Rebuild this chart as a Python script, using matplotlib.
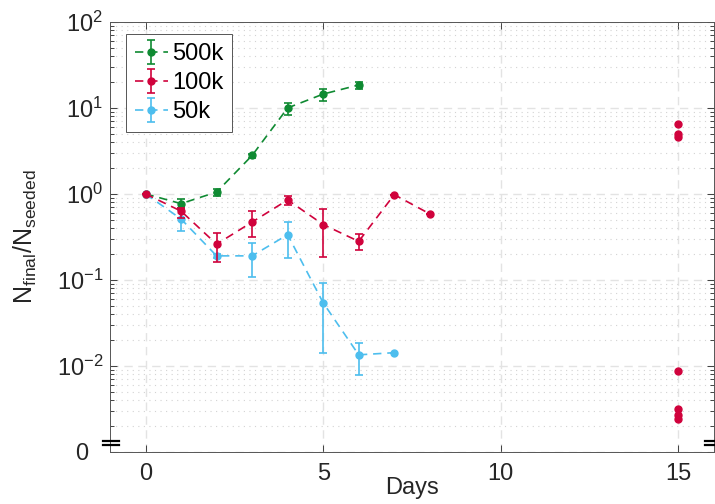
import numpy as np
import matplotlib
matplotlib.use("Agg")
import matplotlib.pyplot as plt
import matplotlib.transforms as mtransforms
from matplotlib.ticker import LogLocator, NullFormatter
from matplotlib.legend_handler import HandlerErrorbar

plt.rcParams["font.family"] = ["Liberation Sans", "DejaVu Sans"]
plt.rcParams["mathtext.fontset"] = "custom"
plt.rcParams["mathtext.rm"] = "Liberation Sans"
plt.rcParams["mathtext.it"] = "Liberation Sans:italic"

# data
days_500k = [0, 1, 2, 3, 4, 5, 6]
vals_500k = [1.0, 0.77, 1.05, 2.8, 10.0, 14.5, 18.5]
lo_500k = [0.0, 0.09, 0.10, 0.15, 1.7, 2.4, 1.9]
hi_500k = [0.0, 0.10, 0.09, 0.15, 1.4, 2.1, 1.6]

days_100k = [0, 1, 2, 3, 4, 5, 6, 7, 8]
vals_100k = [1.0, 0.63, 0.26, 0.47, 0.85, 0.44, 0.28, 0.98, 0.585]
lo_100k = [0.0, 0.10, 0.098, 0.157, 0.105, 0.255, 0.055, 0.0, 0.0]
hi_100k = [0.0, 0.06, 0.092, 0.164, 0.10, 0.23, 0.063, 0.0, 0.0]

days_50k = [0, 1, 2, 3, 4, 5, 6, 7]
vals_50k = [1.0, 0.51, 0.19, 0.19, 0.335, 0.054, 0.0134, 0.0142]
lo_50k = [0.0, 0.14, 0.012, 0.082, 0.155, 0.0399, 0.0055, 0.0]
hi_50k = [0.0, 0.14, 0.012, 0.08, 0.138, 0.038, 0.0051, 0.0]

day15 = [15, 15, 15, 15, 15, 15, 15]
vals15 = [6.5, 5.0, 4.6, 0.0088, 0.0031, 0.0027, 0.0024]

ytick_vals = [1e-3, 1e-2, 1e-1, 1e0, 1e1, 1e2]
ytick_labels = ["0", "$10^{-2}$", "$10^{-1}$", "$10^{0}$", "$10^{1}$", "$10^{2}$"]
xtick_vals = [0, 5, 10, 15]

GREEN = "#0f8a32"
RED = "#d0023c"
BLUE = "#4dbeee"
TXT = "#262626"

fig = plt.figure(figsize=(7.15, 5.04), dpi=100)
ax = fig.add_axes([110 / 715, 1 - 451.7 / 504, 604 / 715, 429.7 / 504])

style = dict(fmt="o", ls=(0, (5, 3.5)), lw=1.2, ms=5, capsize=3.2,
             elinewidth=1.2, capthick=1.2)
h500 = ax.errorbar(days_500k, vals_500k, yerr=[lo_500k, hi_500k],
                   color=GREEN, zorder=3, **style)
h50 = ax.errorbar(days_50k, vals_50k, yerr=[lo_50k, hi_50k],
                  color=BLUE, zorder=3, **style)
h100 = ax.errorbar(days_100k, vals_100k, yerr=[lo_100k, hi_100k],
                   color=RED, zorder=4, **style)
ax.plot(day15, vals15, "o", color=RED, ms=5, zorder=4)

ax.set_yscale("log")
ax.set_ylim(1e-3, 1e2)
ax.set_xlim(-1, 16)
ax.set_yticks(ytick_vals)
ax.set_yticklabels(ytick_labels)
ax.yaxis.set_minor_locator(LogLocator(base=10, subs=np.arange(2, 10), numticks=20))
ax.yaxis.set_minor_formatter(NullFormatter())
ax.set_xticks(xtick_vals)

ax.tick_params(which="both", direction="in", top=True, right=True,
               colors=TXT, labelcolor=TXT)
ax.tick_params(which="major", length=5, width=0.6)
ax.tick_params(which="minor", length=3, width=0.6)
ax.tick_params(axis="x", labelsize=17, pad=8)
ax.tick_params(axis="y", labelsize=17, pad=5)
for s in ax.spines.values():
    s.set_color("#555555")
    s.set_linewidth(0.7)

# the "0" label sits further left, like the reference
zero_lab = ax.get_yticklabels()[0]
zero_lab.set_transform(zero_lab.get_transform() +
                       mtransforms.ScaledTranslation(-15 / 100, 0, fig.dpi_scale_trans))

ax.grid(True, which="major", ls=(0, (6, 4)), color="#e3e3e3", lw=1.0)
ax.grid(True, which="minor", axis="y", ls=(0, (1, 4)), color="#d3d3d3", lw=0.8)
ax.set_axisbelow(True)

# axis break marks on both sides above the "0" tick
for x0, x1 in [(-0.012, 0.015), (0.985, 1.01)]:
    for yb in (0.0256, 0.0149):
        ax.plot([x0, x1], [yb, yb], transform=ax.transAxes, color="black",
                lw=1.6, clip_on=False, zorder=6)

ax.set_xlabel("Days", fontsize=17, color=TXT)
ax.xaxis.set_label_coords(0.5, -0.058)
ax.set_ylabel("N$_{\\mathrm{final}}$/N$_{\\mathrm{seeded}}$", fontsize=18, color=TXT)
ax.yaxis.set_label_coords(-0.117, 0.5)

leg = ax.legend([h500, h100, h50], ["500k", "100k", "50k"], loc="upper left",
                bbox_to_anchor=(0.026, 0.972), borderaxespad=0, fontsize=17,
                fancybox=False, edgecolor="#555555", framealpha=1,
                handlelength=1.4, handletextpad=0.18, borderpad=0.38,
                labelspacing=0.3,
                handler_map={type(h500): HandlerErrorbar(xerr_size=0.5)})
leg.get_frame().set_linewidth(0.7)

fig.savefig("out.png", dpi=100)
